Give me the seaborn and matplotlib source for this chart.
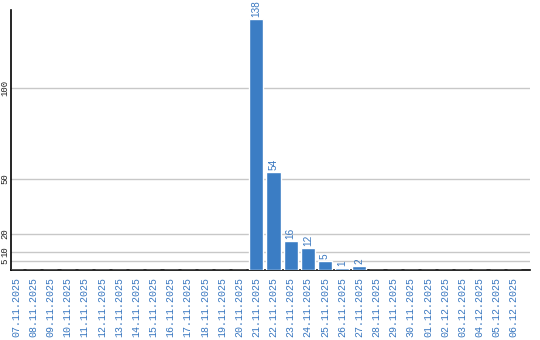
import matplotlib
matplotlib.use("Agg")
import matplotlib.pyplot as plt
import seaborn as sns
import pandas as pd

dates = ["07.11.2025", "08.11.2025", "09.11.2025", "10.11.2025", "11.11.2025",
         "12.11.2025", "13.11.2025", "14.11.2025", "15.11.2025", "16.11.2025",
         "17.11.2025", "18.11.2025", "19.11.2025", "20.11.2025", "21.11.2025",
         "22.11.2025", "23.11.2025", "24.11.2025", "25.11.2025", "26.11.2025",
         "27.11.2025", "28.11.2025", "29.11.2025", "30.11.2025", "01.12.2025",
         "02.12.2025", "03.12.2025", "04.12.2025", "05.12.2025", "06.12.2025"]
values = [0, 0, 0, 0, 0, 0, 0, 0, 0, 0, 0, 0, 0, 0, 138,
          54, 16, 12, 5, 1, 2, 0, 0, 0, 0, 0, 0, 0, 0, 0]
yticks = [5, 10, 20, 50, 100]

bar_color = "#3b7dc4"
text_color = "#3a78c0"

sns.set_style("white")
df = pd.DataFrame({"date": dates, "count": values})

fig = plt.figure(figsize=(5.4, 3.4), dpi=100)
ax = fig.add_axes([11/540, 1 - 270/340, 519/540, 260/340])

sns.barplot(data=df, x="date", y="count", color=bar_color, width=0.82,
            saturation=1, ax=ax, zorder=3)

ax.set_xlim(-0.3, 29.95)
ax.set_ylim(0, 143)
ax.set_yticks(yticks)
ax.set_yticklabels([str(v) for v in yticks], rotation=90, va="center",
                   fontsize=6.5, family="Liberation Mono", color="#222222")
ax.yaxis.grid(True, color="#c8c8c8", linewidth=1, zorder=0)
ax.set_axisbelow(True)
ax.tick_params(axis="y", length=0, pad=1.5)
ax.tick_params(axis="x", length=0, pad=5)
for lbl in ax.get_xticklabels():
    lbl.set_rotation(90)
    lbl.set_fontsize(7.2)
    lbl.set_family("Liberation Mono")
    lbl.set_color(text_color)
    lbl.set_va("top")

for side in ["top", "right"]:
    ax.spines[side].set_visible(False)
for side in ["left", "bottom"]:
    ax.spines[side].set_color("black")
    ax.spines[side].set_linewidth(1.2)

container = ax.containers[0]
labels = [str(v) if v > 0 else "" for v in values]
ax.bar_label(container, labels=labels, rotation=90, padding=1.5,
             fontsize=7.2, family="Liberation Sans", color=text_color)

ax.set_xlabel("")
ax.set_ylabel("")
fig.savefig("out.png", dpi=100)
